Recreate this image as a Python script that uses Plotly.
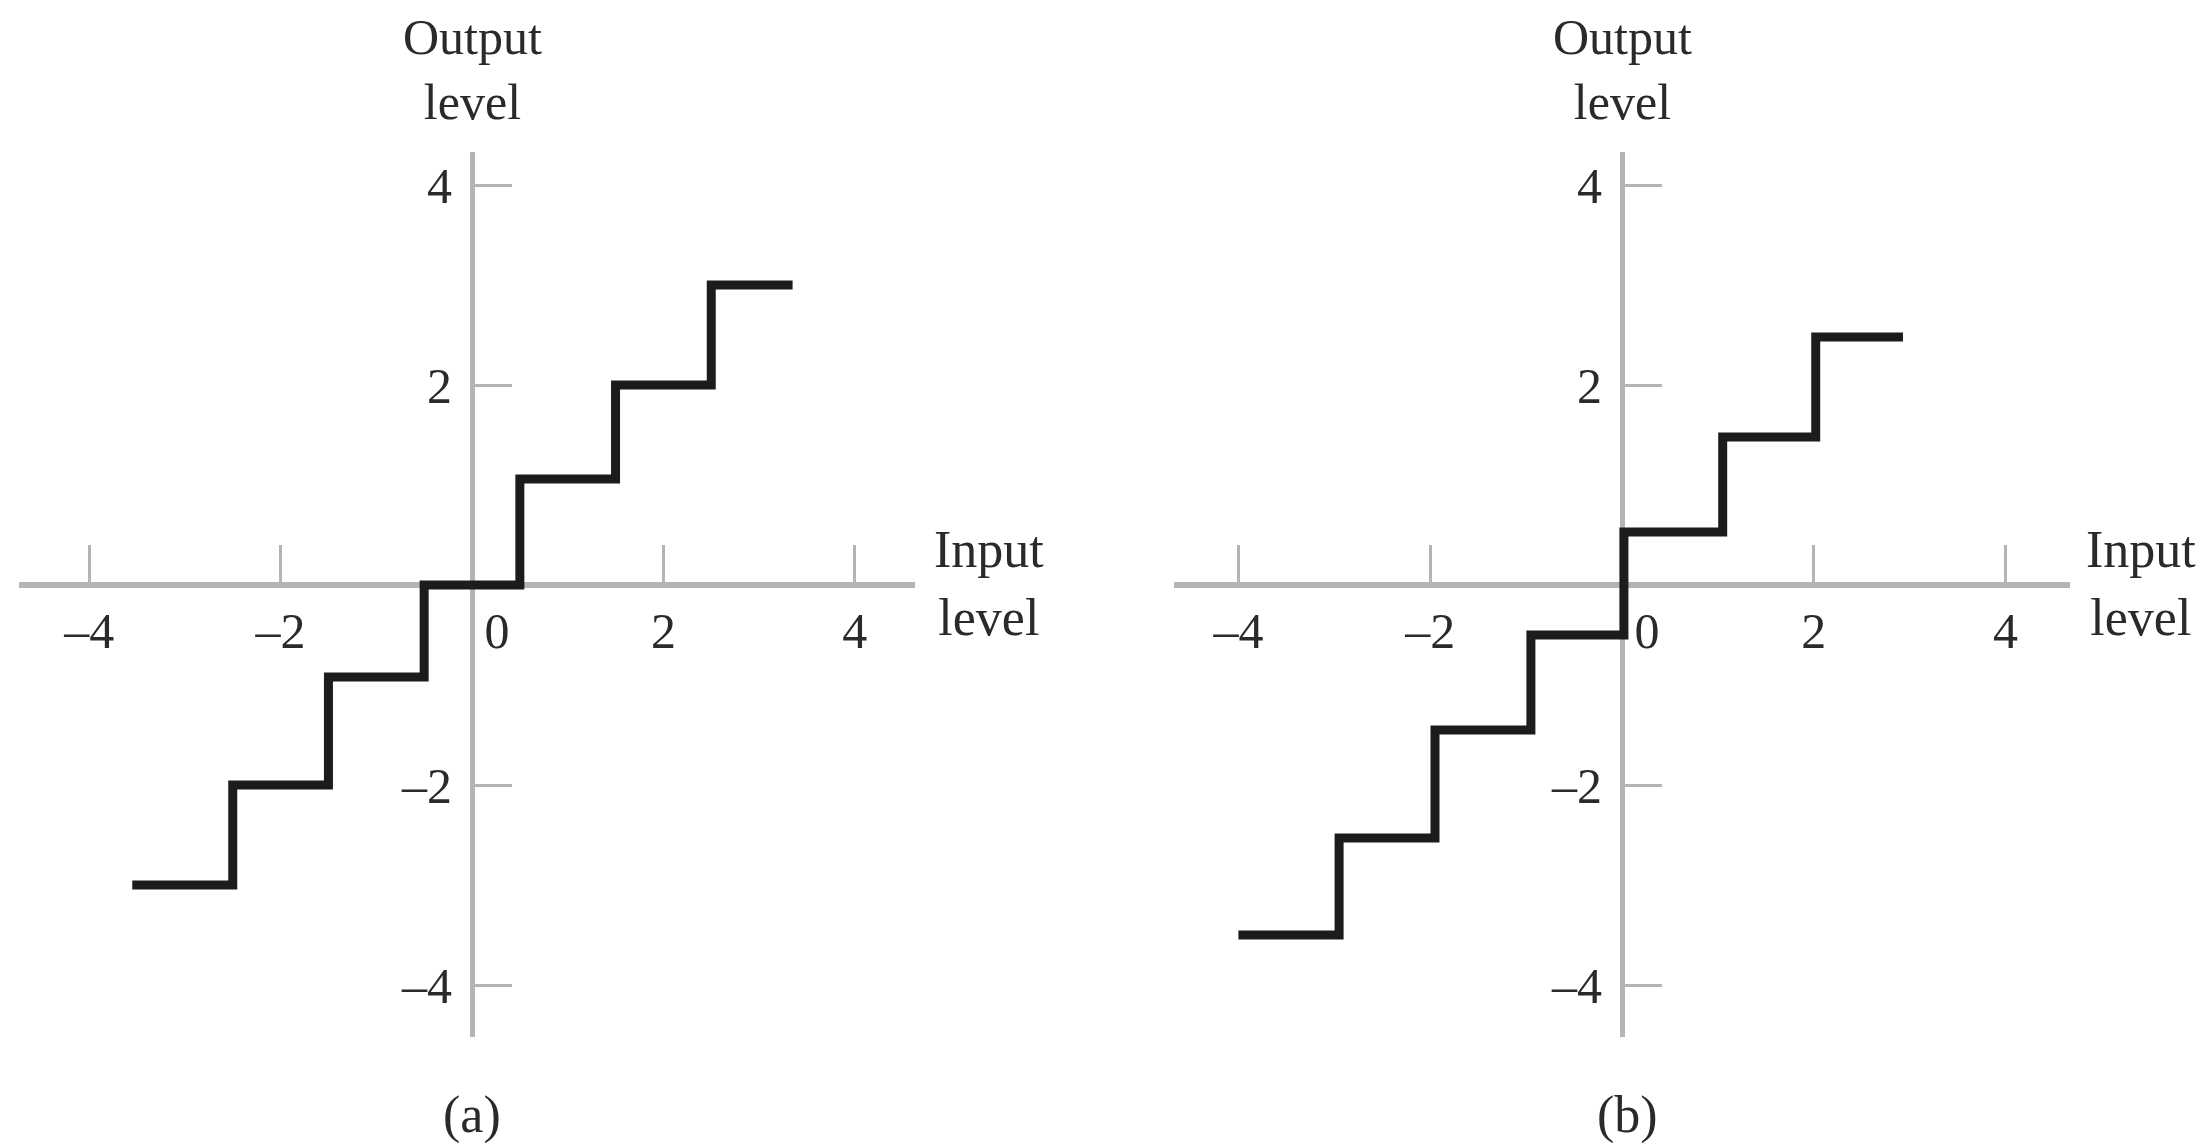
import plotly.graph_objects as go

# page is rendered with the browser's default 8px body margin
OFF = 8
W, H = 2205 - OFF, 1145 - OFF

# ---- data ----
# (a) midtread quantizer
a_x = [-3.55, -2.5, -1.5, -0.5, 0.5, 1.5, 2.5, 3.35]
a_y = [-3.0, -2.0, -0.92, 0.0, 1.06, 2.0, 3.0, 3.0]
# (b) midrise quantizer
b_x = [-4.0, -2.95, -1.95, -0.95, 0.02, 1.05, 2.02, 2.93]
b_y = [-3.5, -2.53, -1.45, -0.5, 0.53, 1.48, 2.48, 2.48]

x_tickvals = [-4, -2, 0, 2, 4]
x_ticktext = ["\u20134", "\u20132", "\u00a0\u00a0\u00a0\u00a00", "2", "4"]
y_tickvals = [-4, -2, 2, 4]
y_ticktext = ["\u20134", "\u20132", "2", "4"]

panel_labels = ["(a)", "(b)"]
x_title = "Input<br>level"
y_title = "Output<br>level"

# ---- layout geometry (page pixels) ----
y0px, uy = 585 - OFF, 100.0
yrange = [-4.52, 4.33]
panels = [
    dict(x0px=472 - OFF, ux=95.7, xrange=[-4.73, 4.63], xs=a_x, ys=a_y, inx=989 - OFF, labx=472 - OFF),
    dict(x0px=1622 - OFF, ux=95.9, xrange=[-4.67, 4.67], xs=b_x, ys=b_y, inx=2141 - OFF, labx=1627 - OFF),
]

AX = "#b4b4b4"
TXT = "#2a2a2a"
FONT = "Liberation Serif"
FS = 50
FS_T = 52

fig = go.Figure()
ydom = [1 - (y0px - yrange[0] * uy) / H, 1 - (y0px - yrange[1] * uy) / H]

annotations = []
for i, p in enumerate(panels):
    n = "" if i == 0 else str(i + 1)
    xa = "x" + n
    ya = "y" + n
    fig.add_trace(go.Scatter(
        x=p["xs"], y=p["ys"], mode="lines", line_shape="hv",
        line=dict(color="#1c1c1c", width=9), xaxis=xa, yaxis=ya,
        showlegend=False, hoverinfo="skip"))
    xdom = [(p["x0px"] + p["xrange"][0] * p["ux"]) / W,
            (p["x0px"] + p["xrange"][1] * p["ux"]) / W]
    common = dict(showgrid=False, zeroline=False, showline=True, linecolor=AX,
                  ticks="inside", tickcolor=AX, tickwidth=3, ticklen=37,
                  tickfont=dict(family=FONT, size=FS, color=TXT),
                  tickmode="array", layer="below traces", fixedrange=True)
    fig.update_layout(**{
        "xaxis" + n: dict(domain=xdom, range=p["xrange"], anchor="free",
                          position=1 - y0px / H, side="bottom", linewidth=6,
                          tickvals=x_tickvals, ticktext=x_ticktext, **common),
        "yaxis" + n: dict(domain=ydom, range=yrange, anchor="free",
                          position=p["x0px"] / W, side="left", linewidth=5,
                          ticklabelstandoff=8,
                          tickvals=y_tickvals, ticktext=y_ticktext, **common),
    })
    annotations += [
        dict(text=y_title, x=p["x0px"] / W, y=1.0, xref="paper", yref="paper",
             xanchor="center", yanchor="top", showarrow=False, borderpad=0,
             font=dict(family=FONT, size=FS, color=TXT)),
        dict(text=x_title, x=p["inx"] / W, y=1 - (583 - OFF) / H, xref="paper", yref="paper",
             xanchor="center", yanchor="middle", showarrow=False,
             font=dict(family=FONT, size=FS_T, color=TXT)),
        dict(text=panel_labels[i], x=p["labx"] / W, y=1 - (1115 - OFF) / H, xref="paper", yref="paper",
             xanchor="center", yanchor="middle", showarrow=False,
             font=dict(family=FONT, size=FS_T, color=TXT)),
    ]

fig.update_layout(width=W, height=H, margin=dict(l=0, r=0, t=0, b=0),
                  paper_bgcolor="white", plot_bgcolor="white",
                  annotations=annotations)
fig.write_html("out.html")
